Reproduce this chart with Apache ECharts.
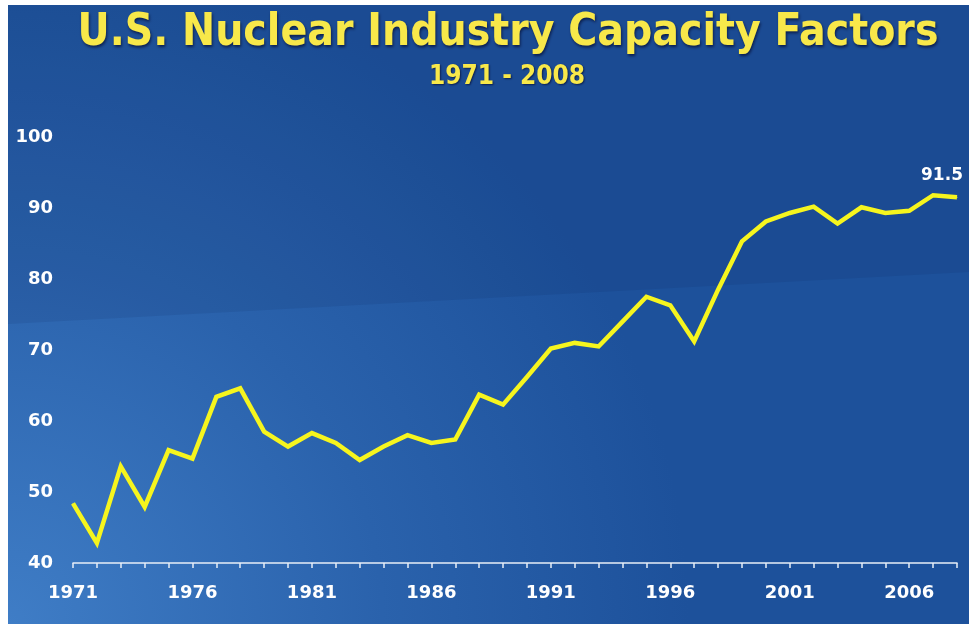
<!DOCTYPE html>
<html>
<head>
<meta charset="utf-8">
<script src="https://cdn.jsdelivr.net/npm/echarts@6/dist/echarts.min.js"></script>
<style>
  html, body { margin: 0; padding: 0; background: #fff; }
  #chart { width: 969px; height: 624px; }
</style>
</head>
<body>
<div id="chart"></div>
<script>
// years on the x axis
const years = [];
for (let y = 1971; y <= 2008; y++) years.push(String(y));

// capacity factor (%) per year
const capacity = [
  48.4, 42.8, 53.6, 47.9, 55.9, 54.7, 63.4, 64.6, 58.5, 56.4,
  58.3, 56.9, 54.5, 56.4, 58.0, 56.9, 57.4, 63.7, 62.3, 66.2,
  70.2, 71.0, 70.5, 74.0, 77.5, 76.3, 71.2, 78.5, 85.3, 88.1,
  89.3, 90.2, 87.8, 90.1, 89.3, 89.6, 91.8, 91.5
];

const yTicks = [40, 50, 60, 70, 80, 90, 100];

const lastIdx = capacity.length - 1;
const lineData = capacity.map((v, i) => i === lastIdx
  ? {
      value: v,
      label: {
        show: true,
        position: "top",
        offset: [-15, -8],
        formatter: "{c}",
        color: "#fff",
        fontFamily: "DejaVu Sans",
        fontWeight: "bold",
        fontSize: 17,
      },
    }
  : v);

let myChart = echarts.init(document.getElementById("chart"));
myChart.setOption({
  backgroundColor: "#fff",
  animation: false,
  graphic: [
    {
      type: "rect",
      z: -100,
      shape: { x: 8, y: 5, width: 961, height: 619 },
      style: {
        fill: new echarts.graphic.RadialGradient(0, 1, 1.1, [
          { offset: 0, color: "#3f7dc6" },
          { offset: 0.55, color: "#2a62ac" },
          { offset: 1, color: "#1d519b" },
        ]),
      },
    },
    {
      // darker upper band
      type: "polygon",
      z: -99,
      shape: { points: [[8, 5], [969, 5], [969, 272], [8, 324]] },
      style: { fill: "rgba(10,30,80,0.10)" },
    },
  ],
  title: [
    {
      text: "U.S. Nuclear Industry Capacity Factors",
      left: 503,
      top: 7,
      textAlign: "center",
      textStyle: {
        color: "#f8e84a",
        fontFamily: "DejaVu Sans Condensed",
        fontWeight: "bold",
        fontSize: 44,
        textShadowColor: "rgba(0,0,30,0.6)",
        textShadowBlur: 3,
        textShadowOffsetX: 1,
        textShadowOffsetY: 2,
      },
    },
    {
      text: "1971 - 2008",
      left: 502,
      top: 59,
      textAlign: "center",
      textStyle: {
        color: "#f8e84a",
        fontFamily: "DejaVu Sans Condensed",
        fontWeight: "bold",
        fontSize: 26,
        textShadowColor: "rgba(0,0,30,0.6)",
        textShadowBlur: 2,
        textShadowOffsetX: 1,
        textShadowOffsetY: 1,
      },
    },
  ],
  grid: {
    left: 73,
    right: 12,
    top: 137,
    bottom: 61,
  },
  xAxis: {
    type: "category",
    data: years,
    boundaryGap: false,
    axisLine: {
      lineStyle: { color: "#e8eef8", width: 1.5 },
    },
    axisTick: {
      show: true,
      interval: 0,
      length: 5,
      lineStyle: { color: "#e8eef8", width: 1.5 },
    },
    axisLabel: {
      interval: 4,
      margin: 21,
      color: "#fff",
      fontFamily: "DejaVu Sans",
      fontWeight: "bold",
      fontSize: 18,
    },
    splitLine: { show: false },
  },
  yAxis: {
    type: "value",
    min: yTicks[0],
    max: yTicks[yTicks.length - 1],
    interval: 10,
    axisLine: { show: false },
    axisTick: { show: false },
    splitLine: { show: false },
    axisLabel: {
      margin: 20,
      color: "#fff",
      fontFamily: "DejaVu Sans",
      fontWeight: "bold",
      fontSize: 18,
    },
  },
  series: [
    {
      name: "Capacity Factor",
      type: "line",
      data: lineData,
      symbol: "circle",
      symbolSize: 1,
      showSymbol: true,
      itemStyle: { color: "#f6f51e" },
      lineStyle: {
        color: "#f6f51e",
        width: 4.5,
        join: "miter",
      },
    },
  ],
});
</script>
</body>
</html>
